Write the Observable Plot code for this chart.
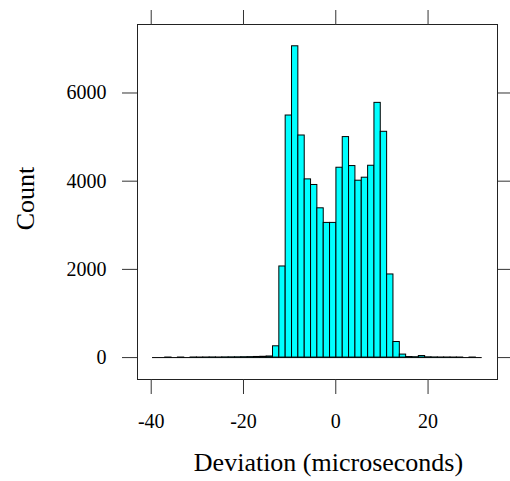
<!DOCTYPE html>
<html>
<head>
<meta charset="utf-8">
<script src="https://cdn.jsdelivr.net/npm/d3@7"></script>
<script src="https://cdn.jsdelivr.net/npm/@observablehq/plot@0.6"></script>
<style>
  html, body { margin: 0; padding: 0; background: #fff; }
</style>
</head>
<body>
<div id="chart"></div>
<script>
// Histogram bin edges (microseconds)
const breaks = [
  -39.71, -38.34, -36.96, -35.59, -34.21, -32.84, -31.47, -30.09, -28.72, -27.34,
  -25.97, -24.60, -23.22, -21.85, -20.47, -19.10, -17.73, -16.35, -14.98, -13.60,
  -12.23, -10.86, -9.48, -8.11, -6.73, -5.36, -3.99, -2.61, -1.24, 0.14,
  1.51, 2.88, 4.26, 5.63, 7.01, 8.38, 9.75, 11.13, 12.50, 13.88,
  15.25, 16.62, 18.00, 19.37, 20.75, 22.12, 23.49, 24.87, 26.24, 27.62,
  28.99, 30.36, 31.74
];
// Counts per bin
const counts = [
  0, 0, 1, 0, 1, 0, 2, 1, 2, 3,
  2, 4, 5, 6, 8, 10, 14, 18, 25, 256,
  2066, 5489, 7059, 5036, 4041, 3914, 3385, 3054, 3054, 4305,
  5000, 4343, 4011, 4079, 4350, 5776, 5120, 1885, 353, 68,
  12, 8, 35, 6, 3, 2, 2, 1, 1, 0,
  1, 0
];
const xTicks = [-40, -20, 0, 20];
const yTicks = [0, 2000, 4000, 6000];
const xTitle = "Deviation (microseconds)";
const yTitle = "Count";

const bins = counts.map((c, i) => ({x1: breaks[i], x2: breaks[i + 1], count: c}));

const chart = Plot.plot({
  width: 510,
  height: 481,
  marginLeft: 137,
  marginRight: 13,
  marginTop: 24,
  marginBottom: 102,
  style: {fontFamily: "Liberation Serif", fontSize: "20px", color: "#000", background: "#fff"},
  x: {domain: [-42.97, 35.05]},
  y: {domain: [-497, 7553]},
  marks: [
    Plot.frame({stroke: "#222", strokeWidth: 1}),
    Plot.axisX({anchor: "bottom", ticks: xTicks, tickSize: 15, tickPadding: 19, tickFormat: d => String(d), label: null, stroke: "#333"}),
    Plot.axisX({anchor: "top", ticks: xTicks, tickSize: 15, tickFormat: () => "", label: null, stroke: "#333"}),
    Plot.axisY({anchor: "left", ticks: yTicks, tickSize: 15, tickPadding: 16, tickFormat: d => String(d), label: null, stroke: "#333"}),
    Plot.axisY({anchor: "right", ticks: yTicks, tickSize: 15, tickFormat: () => "", label: null, stroke: "#333"}),
    Plot.ruleY([0], {x1: breaks[0], x2: breaks[breaks.length - 1], stroke: "#000", strokeWidth: 1}),
    Plot.rectY(bins.filter(d => d.count > 0), {x1: "x1", x2: "x2", y1: 0, y2: "count", fill: "#00FFFF", stroke: "#000", strokeWidth: 1, inset: 0}),
    Plot.text([yTitle], {frameAnchor: "left", dx: -104, dy: -3.5, rotate: -90, lineAnchor: "bottom", textAnchor: "middle", fontSize: 26, fill: "#000"}),
    Plot.text([xTitle], {frameAnchor: "bottom", dx: 11, dy: 91, lineAnchor: "bottom", textAnchor: "middle", fontSize: 26, fill: "#000"})
  ]
});
document.getElementById("chart").appendChild(chart);
</script>
</body>
</html>
